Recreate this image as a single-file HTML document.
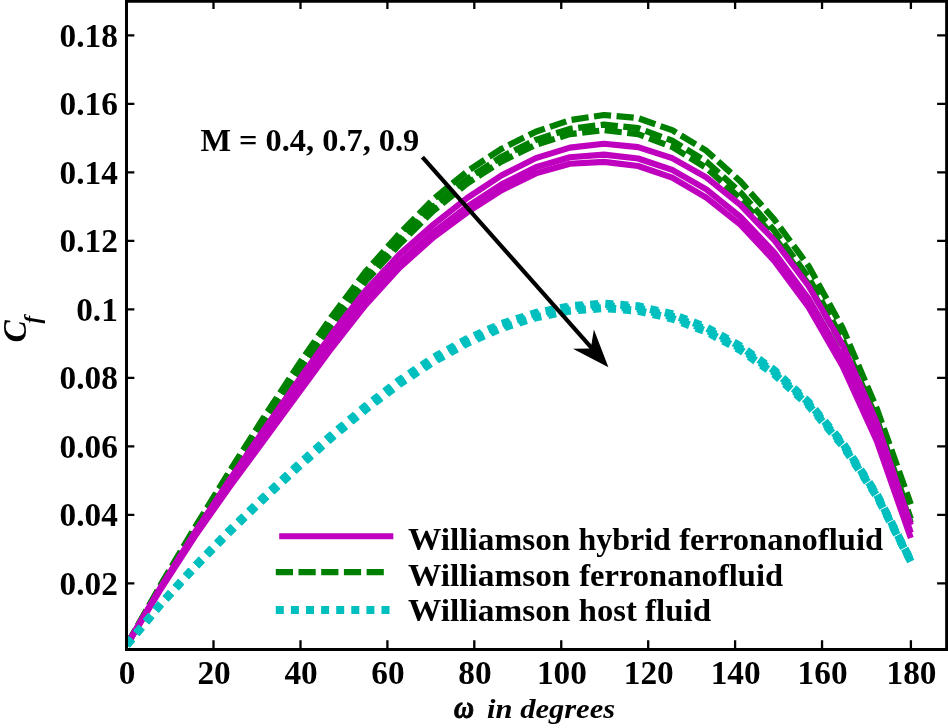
<!DOCTYPE html>
<html><head><meta charset="utf-8"><title>Cf vs omega</title>
<style>
html,body{margin:0;padding:0;background:#fff;}
body{width:948px;height:728px;overflow:hidden;}
svg{display:block;}
svg text{font-family:"Liberation Serif",serif;font-weight:bold;fill:#000;}
.tk text{font-size:33.3px;}
.cv path{fill:none;stroke-linejoin:round;stroke-linecap:butt;}
.m{stroke:#bf00bf;stroke-width:6.1;}
.g{stroke:#008000;stroke-width:6.2;stroke-dasharray:17.2 5.5;}
.c{stroke:#00bfbf;stroke-width:8;stroke-dasharray:8 7.1;}
</style></head><body>
<svg width="948" height="728" viewBox="0 0 948 728">
<rect width="948" height="728" fill="#fff"/>
<defs><clipPath id="cp"><rect x="126.5" y="1.25" width="820.15" height="648.2"/></clipPath></defs>
<g class="cv" clip-path="url(#cp)">
<path class="g" d="M126.8 645.0 L160.8 584.6 L194.9 527.4 L229.0 472.1 L263.1 418.5 L297.2 366.7 L331.3 317.0 L365.4 271.9 L399.5 233.5 L433.6 199.0 L467.7 170.9 L501.7 148.7 L535.8 131.7 L569.9 120.1 L604.0 115.0 L638.1 118.1 L672.2 130.2 L706.3 150.7 L740.4 181.4 L774.5 219.8 L808.6 266.1 L842.6 328.0 L876.7 408.4 L910.8 504.3"/>
<path class="g" d="M126.8 645.0 L160.8 585.6 L194.9 529.4 L229.0 474.9 L263.1 422.2 L297.2 371.2 L331.3 322.3 L365.4 278.0 L399.5 240.2 L433.6 206.3 L467.7 178.6 L501.7 156.7 L535.8 139.9 L569.9 128.9 L604.0 124.6 L638.1 128.2 L672.2 140.7 L706.3 161.5 L740.4 192.2 L774.5 230.9 L808.6 277.6 L842.6 339.3 L876.7 418.7 L910.8 519.0"/>
<path class="g" d="M126.8 645.0 L160.8 586.2 L194.9 530.5 L229.0 476.6 L263.1 424.4 L297.2 373.9 L331.3 325.5 L365.4 281.5 L399.5 244.2 L433.6 210.5 L467.7 183.1 L501.7 161.4 L535.8 144.8 L569.9 134.1 L604.0 130.2 L638.1 134.2 L672.2 146.9 L706.3 167.8 L740.4 198.6 L774.5 237.4 L808.6 284.4 L842.6 346.0 L876.7 424.7 L910.8 523.0"/>
<path class="m" d="M126.8 645.0 L160.8 587.1 L194.9 532.3 L229.0 480.8 L263.1 431.1 L297.2 382.3 L331.3 334.7 L365.4 290.8 L399.5 254.4 L433.6 224.4 L467.7 197.6 L501.7 175.3 L535.8 158.1 L569.9 147.6 L604.0 143.8 L638.1 147.1 L672.2 158.2 L706.3 177.3 L740.4 204.9 L774.5 240.5 L808.6 286.0 L842.6 345.0 L876.7 422.6 L910.8 525.0"/>
<path class="m" d="M126.8 645.0 L160.8 588.2 L194.9 534.7 L229.0 484.9 L263.1 437.3 L297.2 389.9 L331.3 343.0 L365.4 299.4 L399.5 262.4 L433.6 232.1 L467.7 206.3 L501.7 184.3 L535.8 167.3 L569.9 157.3 L604.0 154.6 L638.1 158.5 L672.2 169.9 L706.3 189.4 L740.4 216.8 L774.5 252.9 L808.6 298.8 L842.6 357.7 L876.7 433.6 L910.8 532.8"/>
<path class="m" d="M126.8 645.0 L160.8 589.0 L194.9 536.3 L229.0 487.7 L263.1 441.4 L297.2 395.0 L331.3 348.5 L365.4 305.2 L399.5 267.7 L433.6 237.2 L467.7 212.0 L501.7 190.3 L535.8 173.4 L569.9 163.8 L604.0 161.9 L638.1 166.0 L672.2 177.6 L706.3 197.6 L740.4 224.7 L774.5 261.1 L808.6 307.3 L842.6 366.2 L876.7 440.8 L910.8 538.0"/>
<path class="c" d="M126.8 645.0 L160.8 603.7 L194.9 566.2 L229.0 530.9 L263.1 497.7 L297.2 465.7 L331.3 435.2 L365.4 406.4 L399.5 380.3 L433.6 357.7 L467.7 338.8 L501.7 323.8 L535.8 313.0 L569.9 306.2 L604.0 303.6 L638.1 306.2 L672.2 314.2 L706.3 327.3 L740.4 346.2 L774.5 370.5 L808.6 402.2 L842.6 442.9 L876.7 494.1 L910.8 560.4"/>
<path class="c" d="M126.8 645.0 L160.8 604.0 L194.9 566.7 L229.0 531.7 L263.1 498.7 L297.2 466.9 L331.3 436.6 L365.4 408.0 L399.5 382.0 L433.6 359.6 L467.7 340.8 L501.7 325.9 L535.8 315.2 L569.9 308.4 L604.0 305.8 L638.1 308.5 L672.2 316.4 L706.3 329.5 L740.4 348.2 L774.5 372.3 L808.6 403.8 L842.6 444.2 L876.7 495.1 L910.8 560.9"/>
<path class="c" d="M126.8 645.0 L160.8 604.3 L194.9 567.2 L229.0 532.5 L263.1 499.6 L297.2 468.1 L331.3 438.0 L365.4 409.6 L399.5 383.8 L433.6 361.6 L467.7 342.8 L501.7 328.1 L535.8 317.4 L569.9 310.7 L604.0 308.1 L638.1 310.7 L672.2 318.6 L706.3 331.6 L740.4 350.1 L774.5 374.2 L808.6 405.4 L842.6 445.5 L876.7 496.1 L910.8 561.5"/>
</g>
<g class="ax">
<path d="M126.50 1.25 V649.45 H946.65 V1.25 Z" fill="none" stroke="#000" stroke-width="3"/>
<path d="M213.50 649.45 V640.20 M213.50 1.25 V9.10 M300.50 649.45 V640.20 M300.50 1.25 V9.10 M387.40 649.45 V640.20 M387.40 1.25 V9.10 M474.30 649.45 V640.20 M474.30 1.25 V9.10 M561.25 649.45 V640.20 M561.25 1.25 V9.10 M648.20 649.45 V640.20 M648.20 1.25 V9.10 M735.10 649.45 V640.20 M735.10 1.25 V9.10 M822.05 649.45 V640.20 M822.05 1.25 V9.10 M910.90 649.45 V640.20 M910.90 1.25 V9.10 M126.50 583.37 H134.35 M946.65 583.37 H937.10 M126.50 514.88 H134.35 M946.65 514.88 H937.10 M126.50 446.39 H134.35 M946.65 446.39 H937.10 M126.50 377.90 H134.35 M946.65 377.90 H937.10 M126.50 309.41 H134.35 M946.65 309.41 H937.10 M126.50 240.92 H134.35 M946.65 240.92 H937.10 M126.50 172.43 H134.35 M946.65 172.43 H937.10 M126.50 103.94 H134.35 M946.65 103.94 H937.10 M126.50 35.45 H134.35 M946.65 35.45 H937.10" fill="none" stroke="#000" stroke-width="2.3"/>
</g>
<g class="tk">
<text x="127.2" y="683.8" text-anchor="middle">0</text>
<text x="214.1" y="683.8" text-anchor="middle">20</text>
<text x="301.1" y="683.8" text-anchor="middle">40</text>
<text x="388.0" y="683.8" text-anchor="middle">60</text>
<text x="474.9" y="683.8" text-anchor="middle">80</text>
<text x="561.9" y="683.8" text-anchor="middle">100</text>
<text x="648.8" y="683.8" text-anchor="middle">120</text>
<text x="735.7" y="683.8" text-anchor="middle">140</text>
<text x="822.6" y="683.8" text-anchor="middle">160</text>
<text x="911.5" y="683.8" text-anchor="middle">180</text>
<text x="117.8" y="594.7" text-anchor="end">0.02</text>
<text x="117.8" y="526.2" text-anchor="end">0.04</text>
<text x="117.8" y="457.7" text-anchor="end">0.06</text>
<text x="117.8" y="389.2" text-anchor="end">0.08</text>
<text x="117.8" y="320.7" text-anchor="end">0.1</text>
<text x="117.8" y="252.2" text-anchor="end">0.12</text>
<text x="117.8" y="183.7" text-anchor="end">0.14</text>
<text x="117.8" y="115.2" text-anchor="end">0.16</text>
<text x="117.8" y="46.8" text-anchor="end">0.18</text>
</g>
<g class="lb">
<text x="407.99" y="550.00" font-size="32.6" textLength="162.40" lengthAdjust="spacingAndGlyphs">Williamson</text>
<text x="578.55" y="550.00" font-size="32.6" textLength="92.30" lengthAdjust="spacingAndGlyphs">hybrid</text>
<text x="679.24" y="550.00" font-size="32.6" textLength="203.82" lengthAdjust="spacingAndGlyphs">ferronanofluid</text>
<text x="407.99" y="585.70" font-size="32.6" textLength="162.40" lengthAdjust="spacingAndGlyphs">Williamson</text>
<text x="579.24" y="585.70" font-size="32.6" textLength="203.82" lengthAdjust="spacingAndGlyphs">ferronanofluid</text>
<text x="407.99" y="621.20" font-size="32.6" textLength="162.40" lengthAdjust="spacingAndGlyphs">Williamson</text>
<text x="578.78" y="621.20" font-size="32.6" textLength="57.99" lengthAdjust="spacingAndGlyphs">host</text>
<text x="645.06" y="621.20" font-size="32.6" textLength="66.01" lengthAdjust="spacingAndGlyphs">fluid</text>
<text x="200.47" y="150.60" font-size="32.6" textLength="218.80" lengthAdjust="spacingAndGlyphs">M = 0.4, 0.7, 0.9</text>
<text x="487.12" y="718.10" font-size="27.3" font-style="italic" textLength="127.98" lengthAdjust="spacingAndGlyphs">in degrees</text>
<text x="454.00" y="718.10" font-size="32" font-style="italic" textLength="20.02" lengthAdjust="spacingAndGlyphs" stroke="#000" stroke-width="0.9">ω</text>
</g>
<g transform="translate(26.3,342.4) rotate(-90)">
<text x="0" y="0" font-size="33.3" font-style="italic">C</text>
<text x="19" y="13.5" font-size="23" font-style="italic">f</text>
</g>
<g>
<line x1="422.4" y1="157.1" x2="596" y2="352.8" stroke="#000" stroke-width="4.2"/>
<path d="M608.4 367.2 L572.9 348.8 L590.8 348.6 L593.9 329.6 Z" fill="#000"/>
</g>
<g class="cv">
<path class="m" d="M279.2 536.2 H393.3"/>
<path class="g" d="M275.8 572.1 H389"/>
<path class="c" d="M275.8 610.1 H390"/>
</g>
</svg>
</body></html>
